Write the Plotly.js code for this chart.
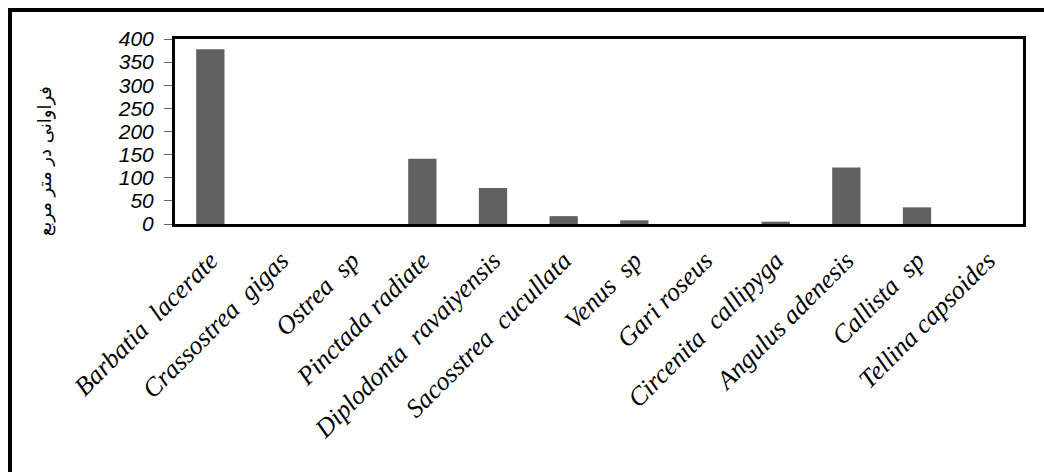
<!DOCTYPE html>
<html>
<head>
<meta charset="utf-8">
<script src="https://cdn.plot.ly/plotly-3.0.1.min.js"></script>
<style>
html,body{margin:0;padding:0;background:#fff;overflow:hidden;}
#frame{position:absolute;left:8px;top:8px;width:1100px;height:520px;border-left:4px solid #000;border-top:4px solid #000;pointer-events:none;}
#chart{position:absolute;left:0;top:0;width:1044px;height:472px;}
</style>
</head>
<body>
<div id="chart"></div>
<div id="frame"></div>
<script>
const species = [
  "Barbatia  lacerate",
  "Crassostrea  gigas",
  "Ostrea  sp",
  "Pinctada radiate",
  "Diplodonta  ravaiyensis",
  "Sacosstrea  cucullata",
  "Venus  sp",
  "Gari roseus",
  "Circenita  callipyga",
  "Angulus adenesis",
  "Callista  sp",
  "Tellina capsoides"
];
const abundance = [378, 0, 0, 141, 78, 17, 8, 0, 5, 122, 36, 0];
const yTitle = "فراوانی در متر مربع";

Plotly.newPlot("chart", [{
  type: "bar",
  x: species,
  y: abundance,
  width: 0.4,
  marker: {color: "#606060", line: {width: 0}},
  hoverinfo: "x+y"
}], {
  width: 1044, height: 472,
  margin: {l: 175, r: 21, t: 39, b: 248, pad: 0},
  paper_bgcolor: "#fff", plot_bgcolor: "#fff",
  showlegend: false,
  xaxis: {
    type: "category",
    showgrid: false, zeroline: false,
    showline: true, mirror: true, linecolor: "#000", linewidth: 3,
    ticks: "",
    tickangle: -45,
    ticklabelstandoff: 8,
    tickfont: {family: "Liberation Serif, Times New Roman, serif", size: 26, style: "italic", color: "#000"}
  },
  yaxis: {
    range: [0, 400], dtick: 50, tick0: 0,
    showgrid: false, zeroline: false,
    showline: true, mirror: true, linecolor: "#000", linewidth: 3,
    ticks: "outside", ticklen: 8, tickwidth: 1, tickcolor: "#666",
    ticklabelstandoff: 6,
    tickfont: {family: "Liberation Sans, Arial, sans-serif", size: 21, style: "italic", color: "#000"}
  },
  annotations: [{
    text: yTitle, xref: "paper", yref: "paper",
    x: -0.153, y: 0.34, xanchor: "center", yanchor: "middle",
    textangle: -90, showarrow: false,
    font: {family: "DejaVu Sans, Noto Sans, sans-serif", size: 18, color: "#000"}
  }]
}, {displayModeBar: false, staticPlot: true});
</script>
</body>
</html>
